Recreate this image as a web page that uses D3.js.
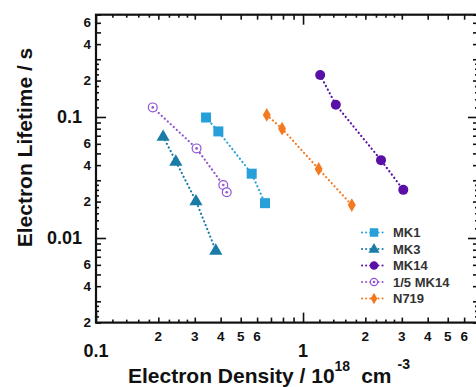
<!DOCTYPE html>
<html><head><meta charset="utf-8">
<script src="https://cdn.jsdelivr.net/npm/d3@7/dist/d3.min.js"></script>
<style>
body{margin:0;background:#fff;}
svg{display:block;font-family:"Liberation Sans",Arial,sans-serif;}
</style></head>
<body><svg id="c" width="476" height="387"></svg>
<script>
// ---- data ----
const seriesNames = ["MK1","MK3","MK14","1/5 MK14","N719"];
const mk1_x = [0.34, 0.39, 0.565, 0.655];
const mk1_y = [0.099, 0.076, 0.034, 0.0194];
const mk3_x = [0.211, 0.243, 0.304, 0.379];
const mk3_y = [0.069, 0.043, 0.0202, 0.0079];
const mk14_x = [1.21, 1.44, 2.38, 3.05];
const mk14_y = [0.222, 0.126, 0.044, 0.025];
const mk14f_x = [0.188, 0.306, 0.412, 0.428];
const mk14f_y = [0.120, 0.055, 0.0274, 0.0239];
const n719_x = [0.668, 0.792, 1.19, 1.72];
const n719_y = [0.104, 0.080, 0.0372, 0.0187];
const xMajorTicks = [0.1, 1];
const yMajorTicks = [0.01, 0.1];
const xMinorLabels = [2,3,4,5,6];
const yMinorLabels = [2,4,6];

const colors = {"MK1":"#27a0d9","MK3":"#1a7ca6","MK14":"#5a10a6","1/5 MK14":"#8f55d2","N719":"#f47a22"};
const shapes = {"MK1":"square","MK3":"triangle","MK14":"circle","1/5 MK14":"ocircle","N719":"diamond"};
const seriesData = [
  {name:"MK1", xs:mk1_x, ys:mk1_y},
  {name:"MK3", xs:mk3_x, ys:mk3_y},
  {name:"MK14", xs:mk14_x, ys:mk14_y},
  {name:"1/5 MK14", xs:mk14f_x, ys:mk14f_y},
  {name:"N719", xs:n719_x, ys:n719_y}
];

const svg = d3.select("#c");
const L=96, R=478, T=14.7, B=322.6;
const x = d3.scaleLog().domain([0.1,7]).range([L,R]);
const y = d3.scaleLog().domain([0.002,0.7]).range([B,T]);

function decadeTicks(lo, hi, mults){
  const out=[];
  for(let k=-4;k<=2;k++){ for(const m of mults){ const v=+(m*Math.pow(10,k)).toPrecision(6); if(v>=lo*0.999 && v<=hi*1.001) out.push(v);} }
  return out;
}
const medMult=[2,3,4,5,6,7,8,9];
const smallMult=[1.2,1.4,1.6,1.8,2.25,2.5,2.75];

const g = svg.append("g");
function drawTicks(axisFn, scale, vals, len, transform){
  const a = axisFn(scale).tickValues(vals).tickSizeInner(-len).tickSizeOuter(0).tickFormat("");
  const gg = g.append("g").attr("transform",transform).call(a);
  gg.select(".domain").remove();
  gg.selectAll("line").attr("stroke","#111").attr("stroke-width",1.6);
}
const xMed=decadeTicks(0.1,7,medMult), xSmall=decadeTicks(0.1,7,smallMult);
const yMed=decadeTicks(0.002,0.7,medMult), ySmall=decadeTicks(0.002,0.7,smallMult);
drawTicks(d3.axisBottom,x,xMajorTicks,10,`translate(0,${B})`);
drawTicks(d3.axisBottom,x,xMed,5,`translate(0,${B})`);
drawTicks(d3.axisBottom,x,xSmall,3,`translate(0,${B})`);
drawTicks(d3.axisTop,x,xMajorTicks,10,`translate(0,${T})`);
drawTicks(d3.axisTop,x,xMed,5,`translate(0,${T})`);
drawTicks(d3.axisTop,x,xSmall,3,`translate(0,${T})`);
drawTicks(d3.axisLeft,y,yMajorTicks,10,`translate(${L},0)`);
drawTicks(d3.axisLeft,y,yMed,5,`translate(${L},0)`);
drawTicks(d3.axisLeft,y,ySmall,3,`translate(${L},0)`);
drawTicks(d3.axisRight,y,yMajorTicks,10,`translate(${R},0)`);
drawTicks(d3.axisRight,y,yMed,5,`translate(${R},0)`);
drawTicks(d3.axisRight,y,ySmall,3,`translate(${R},0)`);

g.append("rect").attr("x",L).attr("y",T).attr("width",R-L).attr("height",B-T)
 .attr("fill","none").attr("stroke","#111").attr("stroke-width",2.2);

const lab = svg.append("g").attr("fill","#111").attr("font-weight","bold");
xMajorTicks.forEach(v=>lab.append("text").attr("x",x(v)).attr("y",357).attr("text-anchor","middle").attr("font-size",18).text(v));
decadeTicks(0.1,7,xMinorLabels).forEach(v=>{
  const m = Math.round(v/Math.pow(10,Math.floor(Math.log10(v)+1e-9)));
  lab.append("text").attr("x",x(v)).attr("y",341).attr("text-anchor","middle").attr("font-size",13.5).text(m);
});
yMajorTicks.forEach(v=>lab.append("text").attr("x",82).attr("y",y(v)+6).attr("text-anchor","end").attr("font-size",18).text(v));
decadeTicks(0.002,0.7,yMinorLabels).forEach(v=>{
  const m = Math.round(v/Math.pow(10,Math.floor(Math.log10(v)+1e-9)));
  lab.append("text").attr("x",91).attr("y",y(v)+4.5).attr("text-anchor","end").attr("font-size",13.5).text(m);
});

lab.append("text").attr("transform","translate(32,147.5) rotate(-90)").attr("text-anchor","middle")
  .attr("font-size",21).text("Electron Lifetime / s");
const xt = lab.append("text").attr("x",128).attr("y",383).attr("font-size",21);
xt.append("tspan").text("Electron Density / 10");
xt.append("tspan").attr("dy",-12).attr("font-size",14).text("18");
xt.append("tspan").attr("dy",12).attr("dx",11).text("cm");
xt.append("tspan").attr("dy",-14).attr("dx",6).attr("font-size",14).text("-3");

function marker(sel, shape, color, cx, cy, s){
  if(shape==="square") sel.append("rect").attr("x",cx-s/2).attr("y",cy-s/2).attr("width",s).attr("height",s).attr("fill",color);
  else if(shape==="triangle") sel.append("path").attr("d",d3.symbol(d3.symbolTriangle,s*s*0.75)()).attr("transform",`translate(${cx},${cy+0.5})`).attr("fill",color);
  else if(shape==="circle") sel.append("circle").attr("cx",cx).attr("cy",cy).attr("r",s/2).attr("fill",color);
  else if(shape==="ocircle"){ sel.append("circle").attr("cx",cx).attr("cy",cy).attr("r",s/2-0.6).attr("fill","#fff").attr("stroke",color).attr("stroke-width",1.2);
    sel.append("circle").attr("cx",cx).attr("cy",cy).attr("r",1.3).attr("fill",color);}
  else if(shape==="diamond") sel.append("path").attr("d",d3.symbol(d3.symbolDiamond,s*s*0.55)()).attr("transform",`translate(${cx},${cy})`).attr("fill",color);
}

const line = d3.line().x(d=>x(d[0])).y(d=>y(d[1]));
const plot = svg.append("g");
seriesData.forEach(s=>{
  const pts = s.xs.map((v,i)=>[v,s.ys[i]]);
  plot.append("path").attr("d",line(pts)).attr("fill","none").attr("stroke",colors[s.name])
    .attr("stroke-width",2.2).attr("stroke-linecap","round").attr("stroke-dasharray","0.1,4");
});
seriesData.forEach(s=>{
  s.xs.forEach((v,i)=>marker(plot,shapes[s.name],colors[s.name],x(v),y(s.ys[i]),10));
});

const leg = svg.append("g");
seriesNames.forEach((n,i)=>{
  const ly = 232.5 + i*16.5;
  leg.append("line").attr("x1",362).attr("x2",386).attr("y1",ly).attr("y2",ly).attr("stroke",colors[n])
    .attr("stroke-width",2).attr("stroke-linecap","round").attr("stroke-dasharray","0.1,4");
  marker(leg,shapes[n],colors[n],374,ly,8.5);
  leg.append("text").attr("x",393).attr("y",ly+4.5).attr("font-size",13).attr("font-weight","bold").attr("fill","#333").text(n);
});
</script></body></html>
